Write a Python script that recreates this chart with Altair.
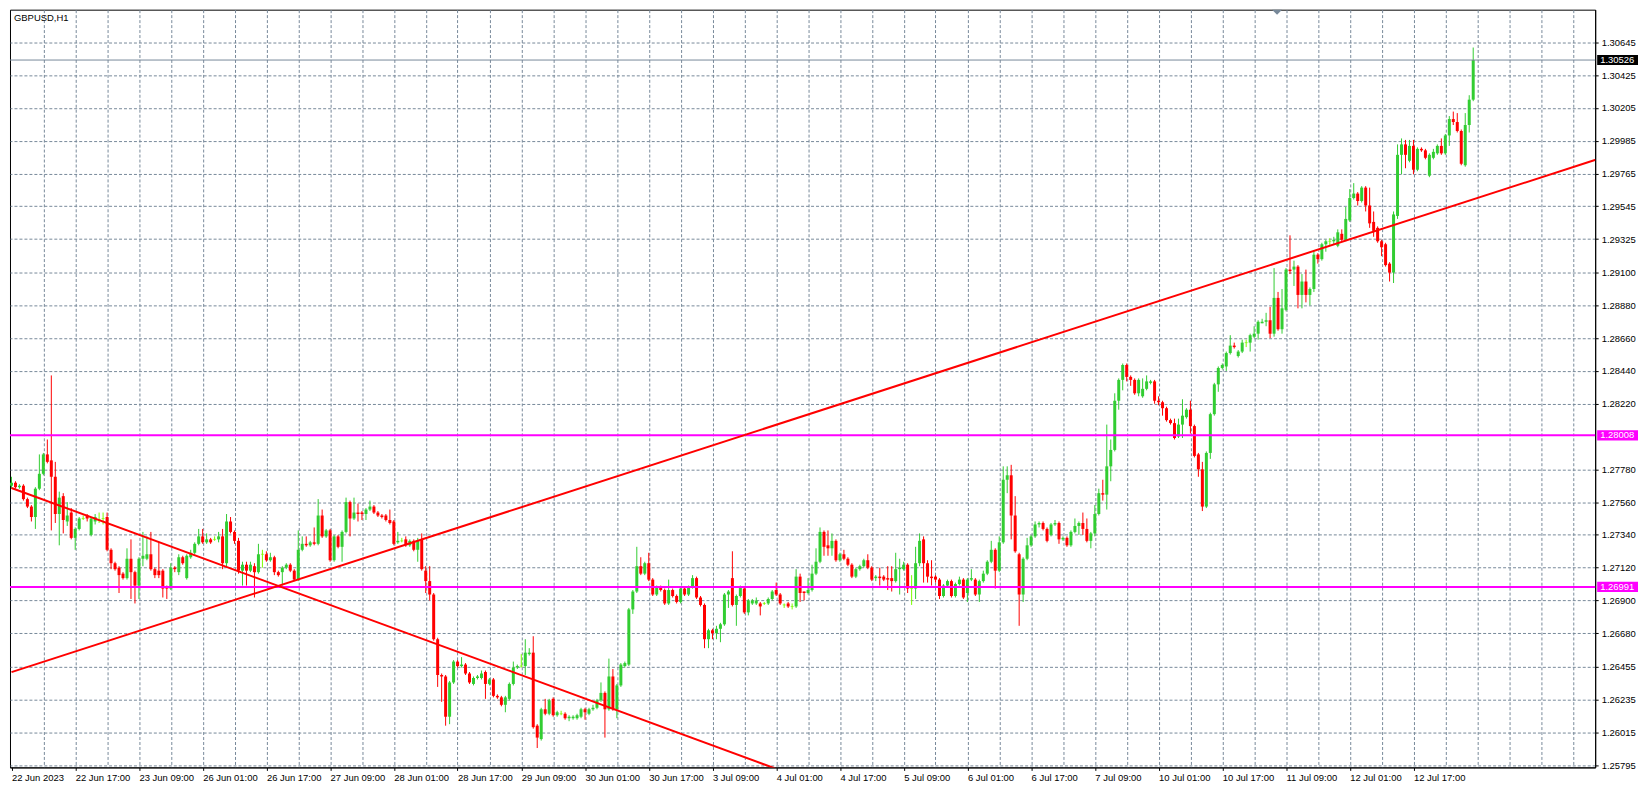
import json
import altair as alt
import pandas as pd

# ---------------- data (GBPUSD, H1) ----------------
opens = [
1.2767,1.2769,1.2766,1.2767,1.2758,1.2753,1.2746,1.2765,1.2775,1.2788,
1.2784,1.2773,1.2748,1.2760,1.2743,1.2749,1.2732,1.2738,1.2745,1.2747,
1.2734,1.2743,1.2744,1.2745,1.2746,1.2724,1.2715,1.2712,1.2708,1.2705,
1.2718,1.2709,1.2700,1.2718,1.2718,1.2721,1.2711,1.2710,1.2710,1.2699,
1.2698,1.2712,1.2709,1.2719,1.2705,1.2719,1.2722,1.2728,1.2733,1.2729,
1.2731,1.2731,1.2731,1.2733,1.2715,1.2743,1.2736,1.2730,1.2710,1.2714,
1.2710,1.2713,1.2709,1.2721,1.2721,1.2717,1.2719,1.2709,1.2709,1.2712,
1.2714,1.2710,1.2704,1.2724,1.2728,1.2727,1.2729,1.2728,1.2747,1.2733,
1.2737,1.2717,1.2733,1.2726,1.2736,1.2756,1.2745,1.2749,1.2749,1.2748,
1.2751,1.2753,1.2749,1.2747,1.2747,1.2744,1.2743,1.2729,1.2730,1.2731,
1.2727,1.2730,1.2724,1.2731,1.2710,1.2703,1.2694,1.2664,1.2640,1.2639,
1.2612,1.2635,1.2649,1.2646,1.2647,1.2641,1.2634,1.2638,1.2638,1.2642,
1.2634,1.2637,1.2626,1.2625,1.2620,1.2624,1.2634,1.2645,1.2646,1.2646,
1.2654,1.2655,1.2606,1.2597,1.2617,1.2614,1.2624,1.2613,1.2614,1.2614,
1.2611,1.2611,1.2611,1.2612,1.2617,1.2614,1.2617,1.2618,1.2623,1.2628,
1.2617,1.2639,1.2617,1.2633,1.2646,1.2647,1.2684,1.2696,1.2713,1.2708,
1.2715,1.2704,1.2694,1.2699,1.2697,1.2688,1.2697,1.2693,1.2689,1.2698,
1.2694,1.2699,1.2705,1.2692,1.2687,1.2664,1.2670,1.2668,1.2671,1.2674,
1.2694,1.2705,1.2687,1.2693,1.2698,1.2682,1.2688,1.2688,1.2688,1.2688,
1.2688,1.2691,1.2697,1.2694,1.2687,1.2688,1.2686,1.2686,1.2706,1.2696,
1.2695,1.2697,1.2708,1.2716,1.2736,1.2727,1.2725,1.2730,1.2717,1.2721,
1.2718,1.2714,1.2706,1.2711,1.2713,1.2717,1.2712,1.2705,1.2706,1.2706,
1.2705,1.2705,1.2703,1.2711,1.2711,1.2714,1.2698,1.2698,1.2715,1.2731,
1.2715,1.2706,1.2706,1.2704,1.2693,1.2700,1.2703,1.2693,1.2701,1.2704,
1.2695,1.2704,1.2704,1.2694,1.2703,1.2708,1.2716,1.2724,1.2710,1.2729,
1.2771,1.2774,1.2747,1.2721,1.2694,1.2718,1.2727,1.2733,1.2741,1.2742,
1.2738,1.2734,1.2741,1.2742,1.2731,1.2732,1.2727,1.2736,1.2740,1.2742,
1.2738,1.2730,1.2735,1.2748,1.2762,1.2761,1.2780,1.2791,1.2824,1.2838,
1.2848,1.2840,1.2838,1.2829,1.2827,1.2832,1.2836,1.2837,1.2824,1.2823,
1.2819,1.2811,1.2809,1.2800,1.2808,1.2813,1.2818,1.2807,1.2788,1.2778,
1.2753,1.2789,1.2815,1.2835,1.2846,1.2847,1.2856,1.2861,1.2854,1.2857,
1.2863,1.2863,1.2867,1.2869,1.2876,1.2877,1.2878,1.2869,1.2893,1.2872,
1.2885,1.2912,1.2912,1.2914,1.2895,1.2904,1.2895,1.2899,1.2922,1.2919,
1.2929,1.2931,1.2931,1.2928,1.2936,1.2932,1.2945,1.2960,1.2963,1.2958,
1.2967,1.2955,1.2944,1.2940,1.2931,1.2929,1.2916,1.2910,1.2948,1.2989,
1.2996,1.2985,1.2995,1.2979,1.2993,1.2992,1.2975,1.2987,1.2990,1.2995,
1.2990,1.3002,1.3013,1.3011,1.3005,1.2982,1.3009,1.3026,
]

highs = [
1.2773,1.2770,1.2768,1.2768,1.2759,1.2754,1.2766,1.2788,1.2789,1.2798,
1.2841,1.2783,1.2763,1.2762,1.2756,1.2752,1.2739,1.2746,1.2747,1.2748,
1.2746,1.2748,1.2749,1.2749,1.2749,1.2725,1.2716,1.2713,1.2709,1.2725,
1.2731,1.2710,1.2719,1.2736,1.2733,1.2736,1.2712,1.2729,1.2711,1.2700,
1.2715,1.2713,1.2721,1.2720,1.2721,1.2724,1.2729,1.2738,1.2738,1.2735,
1.2732,1.2733,1.2736,1.2738,1.2748,1.2746,1.2737,1.2732,1.2716,1.2716,
1.2716,1.2715,1.2728,1.2724,1.2723,1.2722,1.2720,1.2710,1.2713,1.2715,
1.2715,1.2711,1.2737,1.2733,1.2733,1.2730,1.2739,1.2758,1.2751,1.2738,
1.2738,1.2734,1.2734,1.2737,1.2759,1.2757,1.2759,1.2755,1.2750,1.2752,
1.2757,1.2754,1.2750,1.2748,1.2748,1.2751,1.2744,1.2736,1.2732,1.2733,
1.2731,1.2731,1.2732,1.2735,1.2713,1.2713,1.2695,1.2665,1.2641,1.2640,
1.2636,1.2650,1.2650,1.2652,1.2648,1.2642,1.2639,1.2640,1.2643,1.2643,
1.2638,1.2638,1.2627,1.2626,1.2626,1.2635,1.2649,1.2647,1.2654,1.2664,
1.2658,1.2666,1.2607,1.2618,1.2624,1.2624,1.2625,1.2616,1.2616,1.2615,
1.2613,1.2613,1.2614,1.2618,1.2618,1.2618,1.2620,1.2624,1.2635,1.2629,
1.2651,1.2644,1.2634,1.2648,1.2649,1.2685,1.2697,1.2726,1.2719,1.2716,
1.2722,1.2705,1.2700,1.2700,1.2698,1.2704,1.2698,1.2694,1.2699,1.2699,
1.2700,1.2707,1.2706,1.2693,1.2688,1.2671,1.2671,1.2673,1.2675,1.2695,
1.2697,1.2723,1.2694,1.2700,1.2699,1.2691,1.2691,1.2692,1.2689,1.2689,
1.2692,1.2697,1.2702,1.2695,1.2688,1.2689,1.2688,1.2711,1.2708,1.2696,
1.2705,1.2714,1.2725,1.2739,1.2737,1.2737,1.2735,1.2731,1.2722,1.2724,
1.2719,1.2715,1.2712,1.2714,1.2718,1.2721,1.2713,1.2707,1.2712,1.2707,
1.2713,1.2713,1.2722,1.2718,1.2716,1.2715,1.2707,1.2726,1.2735,1.2733,
1.2717,1.2717,1.2707,1.2705,1.2701,1.2704,1.2704,1.2702,1.2706,1.2705,
1.2705,1.2711,1.2705,1.2704,1.2710,1.2717,1.2730,1.2725,1.2733,1.2780,
1.2780,1.2781,1.2760,1.2722,1.2719,1.2732,1.2734,1.2743,1.2743,1.2743,
1.2739,1.2742,1.2744,1.2743,1.2733,1.2733,1.2737,1.2745,1.2743,1.2749,
1.2745,1.2736,1.2754,1.2765,1.2771,1.2808,1.2798,1.2829,1.2839,1.2849,
1.2849,1.2841,1.2839,1.2839,1.2839,1.2841,1.2838,1.2838,1.2827,1.2824,
1.2820,1.2812,1.2812,1.2812,1.2825,1.2819,1.2824,1.2808,1.2789,1.2783,
1.2790,1.2816,1.2836,1.2847,1.2849,1.2857,1.2868,1.2863,1.2858,1.2865,
1.2865,1.2869,1.2874,1.2878,1.2879,1.2883,1.2887,1.2913,1.2897,1.2899,
1.2913,1.2935,1.2918,1.2915,1.2909,1.2912,1.2900,1.2925,1.2923,1.2930,
1.2932,1.2933,1.2934,1.2939,1.2939,1.2954,1.2966,1.2970,1.2964,1.2968,
1.2968,1.2967,1.2951,1.2941,1.2932,1.2930,1.2917,1.2951,1.2996,1.3000,
1.2999,1.2999,1.2999,1.2994,1.2994,1.2993,1.2990,1.2993,1.2996,1.3000,
1.3003,1.3015,1.3018,1.3017,1.3006,1.3017,1.3029,1.3061,
]

lows = [
1.2765,1.2765,1.2765,1.2757,1.2752,1.2743,1.2738,1.2764,1.2774,1.2782,
1.2737,1.2742,1.2727,1.2735,1.2740,1.2731,1.2724,1.2737,1.2744,1.2743,
1.2733,1.2741,1.2742,1.2741,1.2723,1.2711,1.2710,1.2695,1.2704,1.2704,
1.2691,1.2688,1.2691,1.2713,1.2717,1.2710,1.2705,1.2705,1.2692,1.2691,
1.2697,1.2709,1.2707,1.2714,1.2704,1.2718,1.2721,1.2727,1.2728,1.2728,
1.2728,1.2730,1.2729,1.2711,1.2713,1.2735,1.2728,1.2708,1.2700,1.2700,
1.2709,1.2692,1.2708,1.2712,1.2716,1.2716,1.2707,1.2706,1.2700,1.2711,
1.2709,1.2703,1.2703,1.2723,1.2726,1.2726,1.2727,1.2727,1.2732,1.2732,
1.2716,1.2716,1.2725,1.2716,1.2735,1.2733,1.2744,1.2743,1.2744,1.2744,
1.2750,1.2748,1.2746,1.2745,1.2743,1.2741,1.2727,1.2728,1.2729,1.2726,
1.2726,1.2723,1.2716,1.2710,1.2695,1.2690,1.2663,1.2632,1.2622,1.2606,
1.2607,1.2634,1.2645,1.2645,1.2640,1.2634,1.2633,1.2637,1.2637,1.2624,
1.2633,1.2625,1.2624,1.2619,1.2615,1.2623,1.2633,1.2644,1.2645,1.2640,
1.2653,1.2604,1.2591,1.2596,1.2613,1.2613,1.2612,1.2612,1.2613,1.2610,
1.2609,1.2610,1.2610,1.2611,1.2610,1.2613,1.2616,1.2617,1.2622,1.2598,
1.2616,1.2616,1.2611,1.2632,1.2645,1.2646,1.2681,1.2695,1.2707,1.2707,
1.2703,1.2693,1.2693,1.2696,1.2687,1.2687,1.2692,1.2688,1.2688,1.2693,
1.2693,1.2698,1.2691,1.2686,1.2658,1.2658,1.2664,1.2664,1.2662,1.2673,
1.2685,1.2686,1.2673,1.2692,1.2681,1.2680,1.2687,1.2687,1.2680,1.2687,
1.2687,1.2690,1.2693,1.2687,1.2685,1.2685,1.2684,1.2685,1.2689,1.2690,
1.2694,1.2696,1.2707,1.2715,1.2720,1.2720,1.2720,1.2716,1.2716,1.2717,
1.2713,1.2705,1.2705,1.2710,1.2712,1.2711,1.2703,1.2703,1.2700,1.2703,
1.2697,1.2696,1.2702,1.2694,1.2710,1.2695,1.2687,1.2691,1.2713,1.2702,
1.2702,1.2700,1.2702,1.2691,1.2692,1.2699,1.2692,1.2692,1.2700,1.2691,
1.2689,1.2703,1.2693,1.2689,1.2702,1.2707,1.2715,1.2698,1.2709,1.2728,
1.2762,1.2731,1.2722,1.2673,1.2689,1.2717,1.2726,1.2732,1.2739,1.2737,
1.2729,1.2733,1.2740,1.2728,1.2730,1.2726,1.2726,1.2735,1.2734,1.2734,
1.2729,1.2725,1.2733,1.2747,1.2757,1.2751,1.2770,1.2790,1.2818,1.2831,
1.2837,1.2834,1.2828,1.2827,1.2826,1.2831,1.2835,1.2822,1.2821,1.2814,
1.2810,1.2808,1.2798,1.2799,1.2799,1.2812,1.2802,1.2786,1.2773,1.2750,
1.2752,1.2785,1.2814,1.2830,1.2845,1.2844,1.2855,1.2859,1.2853,1.2856,
1.2860,1.2857,1.2866,1.2865,1.2876,1.2874,1.2866,1.2867,1.2871,1.2869,
1.2884,1.2909,1.2901,1.2886,1.2886,1.2890,1.2888,1.2897,1.2916,1.2918,
1.2924,1.2928,1.2929,1.2927,1.2931,1.2931,1.2944,1.2959,1.2955,1.2957,
1.2951,1.2940,1.2934,1.2930,1.2921,1.2914,1.2904,1.2903,1.2946,1.2976,
1.2980,1.2984,1.2976,1.2978,1.2991,1.2986,1.2974,1.2986,1.2989,1.2989,
1.2989,1.2995,1.3009,1.3004,1.2982,1.2981,1.3004,1.3025,
]

closes = [
1.2769,1.2766,1.2767,1.2758,1.2753,1.2746,1.2765,1.2775,1.2788,1.2783,
1.2773,1.2748,1.2759,1.2744,1.2747,1.2732,1.2738,1.2745,1.2745,1.2745,
1.2745,1.2746,1.2744,1.2745,1.2724,1.2715,1.2711,1.2707,1.2705,1.2718,
1.2709,1.2700,1.2718,1.2720,1.2721,1.2711,1.2707,1.2707,1.2698,1.2698,
1.2712,1.2711,1.2719,1.2715,1.2720,1.2722,1.2728,1.2733,1.2729,1.2731,
1.2729,1.2731,1.2733,1.2715,1.2743,1.2736,1.2730,1.2710,1.2714,1.2710,
1.2714,1.2709,1.2721,1.2721,1.2717,1.2719,1.2709,1.2707,1.2712,1.2714,
1.2710,1.2704,1.2724,1.2728,1.2727,1.2729,1.2728,1.2747,1.2733,1.2737,
1.2717,1.2733,1.2726,1.2736,1.2756,1.2745,1.2749,1.2748,1.2748,1.2751,
1.2753,1.2749,1.2747,1.2746,1.2744,1.2742,1.2728,1.2730,1.2730,1.2727,
1.2730,1.2724,1.2730,1.2711,1.2703,1.2694,1.2664,1.2640,1.2639,1.2612,
1.2635,1.2649,1.2646,1.2647,1.2641,1.2635,1.2638,1.2639,1.2641,1.2634,
1.2637,1.2626,1.2625,1.2620,1.2625,1.2634,1.2645,1.2646,1.2646,1.2655,
1.2655,1.2605,1.2598,1.2617,1.2614,1.2623,1.2613,1.2615,1.2614,1.2611,
1.2612,1.2612,1.2613,1.2617,1.2615,1.2617,1.2618,1.2623,1.2628,1.2617,
1.2639,1.2617,1.2633,1.2647,1.2648,1.2684,1.2696,1.2713,1.2708,1.2715,
1.2704,1.2694,1.2699,1.2697,1.2688,1.2697,1.2693,1.2689,1.2698,1.2694,
1.2699,1.2705,1.2692,1.2687,1.2664,1.2670,1.2668,1.2671,1.2674,1.2694,
1.2696,1.2687,1.2693,1.2699,1.2682,1.2690,1.2690,1.2690,1.2686,1.2688,
1.2691,1.2696,1.2694,1.2688,1.2687,1.2686,1.2686,1.2706,1.2695,1.2695,
1.2697,1.2708,1.2716,1.2736,1.2726,1.2725,1.2730,1.2717,1.2721,1.2718,
1.2714,1.2706,1.2711,1.2713,1.2717,1.2712,1.2704,1.2706,1.2705,1.2704,
1.2704,1.2703,1.2711,1.2712,1.2714,1.2698,1.2698,1.2715,1.2730,1.2715,
1.2706,1.2705,1.2704,1.2693,1.2700,1.2703,1.2693,1.2701,1.2704,1.2692,
1.2704,1.2705,1.2694,1.2703,1.2708,1.2716,1.2724,1.2710,1.2729,1.2771,
1.2774,1.2747,1.2723,1.2694,1.2718,1.2727,1.2733,1.2741,1.2742,1.2738,
1.2730,1.2741,1.2742,1.2731,1.2732,1.2727,1.2736,1.2740,1.2742,1.2738,
1.2730,1.2735,1.2748,1.2762,1.2761,1.2780,1.2791,1.2824,1.2838,1.2848,
1.2840,1.2838,1.2829,1.2838,1.2832,1.2837,1.2837,1.2824,1.2823,1.2819,
1.2811,1.2809,1.2799,1.2808,1.2814,1.2818,1.2807,1.2787,1.2778,1.2753,
1.2789,1.2815,1.2835,1.2846,1.2848,1.2856,1.2861,1.2860,1.2857,1.2863,
1.2863,1.2868,1.2869,1.2877,1.2877,1.2878,1.2869,1.2893,1.2872,1.2886,
1.2912,1.2911,1.2914,1.2895,1.2904,1.2895,1.2899,1.2922,1.2919,1.2929,
1.2931,1.2931,1.2932,1.2937,1.2932,1.2946,1.2960,1.2963,1.2958,1.2967,
1.2955,1.2943,1.2938,1.2931,1.2927,1.2915,1.2910,1.2949,1.2989,1.2996,
1.2989,1.2995,1.2979,1.2993,1.2992,1.2987,1.2989,1.2991,1.2995,1.2990,
1.3002,1.3013,1.3011,1.3005,1.2983,1.3009,1.3026,1.30526,
]

# time-axis labels (one every 16 hourly bars, starting at bar 0)
x_labels = [
    "22 Jun 2023", "22 Jun 17:00", "23 Jun 09:00", "26 Jun 01:00", "26 Jun 17:00",
    "27 Jun 09:00", "28 Jun 01:00", "28 Jun 17:00", "29 Jun 09:00", "30 Jun 01:00",
    "30 Jun 17:00", "3 Jul 09:00", "4 Jul 01:00", "4 Jul 17:00", "5 Jul 09:00",
    "6 Jul 01:00", "6 Jul 17:00", "7 Jul 09:00", "10 Jul 01:00", "10 Jul 17:00",
    "11 Jul 09:00", "12 Jul 01:00", "12 Jul 17:00",
]
# price-axis tick labels
y_ticks = [1.30645, 1.30425, 1.30205, 1.29985, 1.29765, 1.29545, 1.29325, 1.29100,
           1.28880, 1.28660, 1.28440, 1.28220, 1.27780, 1.27560, 1.27340, 1.27120,
           1.26900, 1.26680, 1.26455, 1.26235, 1.26015, 1.25795]

level_prices = [1.28008, 1.26991]          # magenta horizontal levels
bid_price = 1.30526                        # current bid line
trend_names = ["up", "up", "down", "down"]
trend_bars = [0, 397.75, 0, 191.75]
trend_prices = [1.26419, 1.29857, 1.27655, 1.25773]
chart_title = "GBPUSD,H1"

# ---------------- frames ----------------
n = len(opens)
dirs = ["up" if c > o else ("down" if c < o else "flat") for o, c in zip(opens, closes)]
df = pd.DataFrame({"i": list(range(n)), "open": opens, "high": highs,
                   "low": lows, "close": closes, "dir": dirs})
trend_df = pd.DataFrame({"line": trend_names, "i": trend_bars, "price": trend_prices})
level_df = pd.DataFrame({"price": level_prices})
bid_df = pd.DataFrame({"price": [bid_price]})
box_df = pd.DataFrame({
    "price": [bid_price] + level_prices,
    "label": [f"{p:.5f}" for p in [bid_price] + level_prices],
    "fill": ["#000000", "#FF00FF", "#FF00FF"],
})
title_df = pd.DataFrame({"t": [chart_title]})
shift_df = pd.DataFrame({"k": ["shift"]})

W, H = 1592, 761
FONT = "Liberation Sans"
FS = 9.5
GRID = "#778899"

xscale = alt.Scale(domain=[-0.375, 397.625], nice=False, zero=False, padding=0)
yscale = alt.Scale(domain=[1.25780, 1.30864], nice=False, zero=False, padding=0)
cscale = alt.Scale(domain=["up", "down", "flat"], range=["#32CD32", "#FF0000", "#7CFC00"])

lab_test = "datum.value % 16 === 0 && datum.value <= 352"
label_expr = f"{lab_test} ? {json.dumps(x_labels)}[datum.value / 16] : ''"

xaxis = alt.Axis(
    values=list(range(0, 398, 8)), grid=True, gridDash=[3, 2], gridColor=GRID,
    gridOpacity={"condition": {"test": "datum.value > 0", "value": 1}, "value": 0},
    tickOpacity={"condition": {"test": lab_test, "value": 1}, "value": 0},
    labelExpr=label_expr, labelAlign="left", labelBaseline="top", labelPadding=2,
    tickSize=3, tickColor="black", domainColor="black", labelColor="black",
    labelFont=FONT, labelFontSize=FS, labelOverlap=False, labelFlush=False,
    labelBound=False, title=None, orient="bottom",
)
yaxis = alt.Axis(
    values=y_ticks, format=".5f", orient="right", grid=True, gridDash=[3, 2],
    gridColor=GRID, tickSize=3, tickColor="black", domainColor="black",
    labelColor="black", labelFont=FONT, labelFontSize=FS, labelPadding=3,
    labelOverlap=False, labelFlush=False, labelBound=False, title=None,
)


def X(field):
    return alt.X(field, scale=xscale, axis=xaxis)


def Y(field):
    return alt.Y(field, scale=yscale, axis=yaxis)


ccol = alt.Color("dir:N", scale=cscale, legend=None)

base = alt.Chart(df)
wicks = base.mark_rule(strokeWidth=1).encode(
    x=X("i:Q"), y=Y("low:Q"), y2="high:Q", color=ccol)
bodies = base.mark_bar(width=3).encode(
    x=X("i:Q"), y=Y("open:Q"), y2="close:Q", color=ccol)
dojis = base.transform_filter("datum.dir === 'flat'").mark_tick(
    orient="horizontal", size=3, thickness=1).encode(
    x=X("i:Q"), y=Y("close:Q"), color=ccol)
levels = alt.Chart(level_df).mark_rule(color="#FF00FF", strokeWidth=2).encode(
    y=Y("price:Q"))
bid = alt.Chart(bid_df).mark_rule(color=GRID, strokeWidth=1).encode(
    y=Y("price:Q"))
trends = alt.Chart(trend_df).mark_line(color="#FF0000", strokeWidth=2, clip=True).encode(
    x=X("i:Q"), y=Y("price:Q"), detail="line:N")
title_txt = alt.Chart(title_df).mark_text(
    align="left", baseline="middle", font=FONT, fontSize=FS, color="black").encode(
    x=alt.value(4), y=alt.value(8), text="t:N")
shift_mark = alt.Chart(shift_df).mark_point(
    shape="M-1,0L1,0L0,1Z", filled=True, color=GRID, opacity=1, size=100,
    strokeWidth=0).encode(x=alt.value(1272.5), y=alt.value(0))
boxes = alt.Chart(box_df).transform_calculate(
    lo="datum.price - 0.00034", hi="datum.price + 0.00034").mark_bar().encode(
    x=alt.value(W + 2), x2=alt.value(W + 43),
    y=Y("lo:Q"), y2="hi:Q",
    color=alt.Color("fill:N", scale=None, legend=None),
)
box_txt = alt.Chart(box_df).mark_text(
    align="left", baseline="middle", font=FONT, fontSize=FS, color="white").encode(
    x=alt.value(W + 5), y=Y("price:Q"), text="label:N")

chart = alt.layer(
    wicks, bodies, dojis, levels, bid, trends, title_txt, shift_mark, boxes, box_txt
).properties(
    width=W, height=H, padding={"left": 1, "top": 0, "right": 0, "bottom": 0},
    background="white",
).configure_view(stroke="black", strokeWidth=1, fill="white")

chart.save("out.html", embed_options={"renderer": "svg", "actions": False})
